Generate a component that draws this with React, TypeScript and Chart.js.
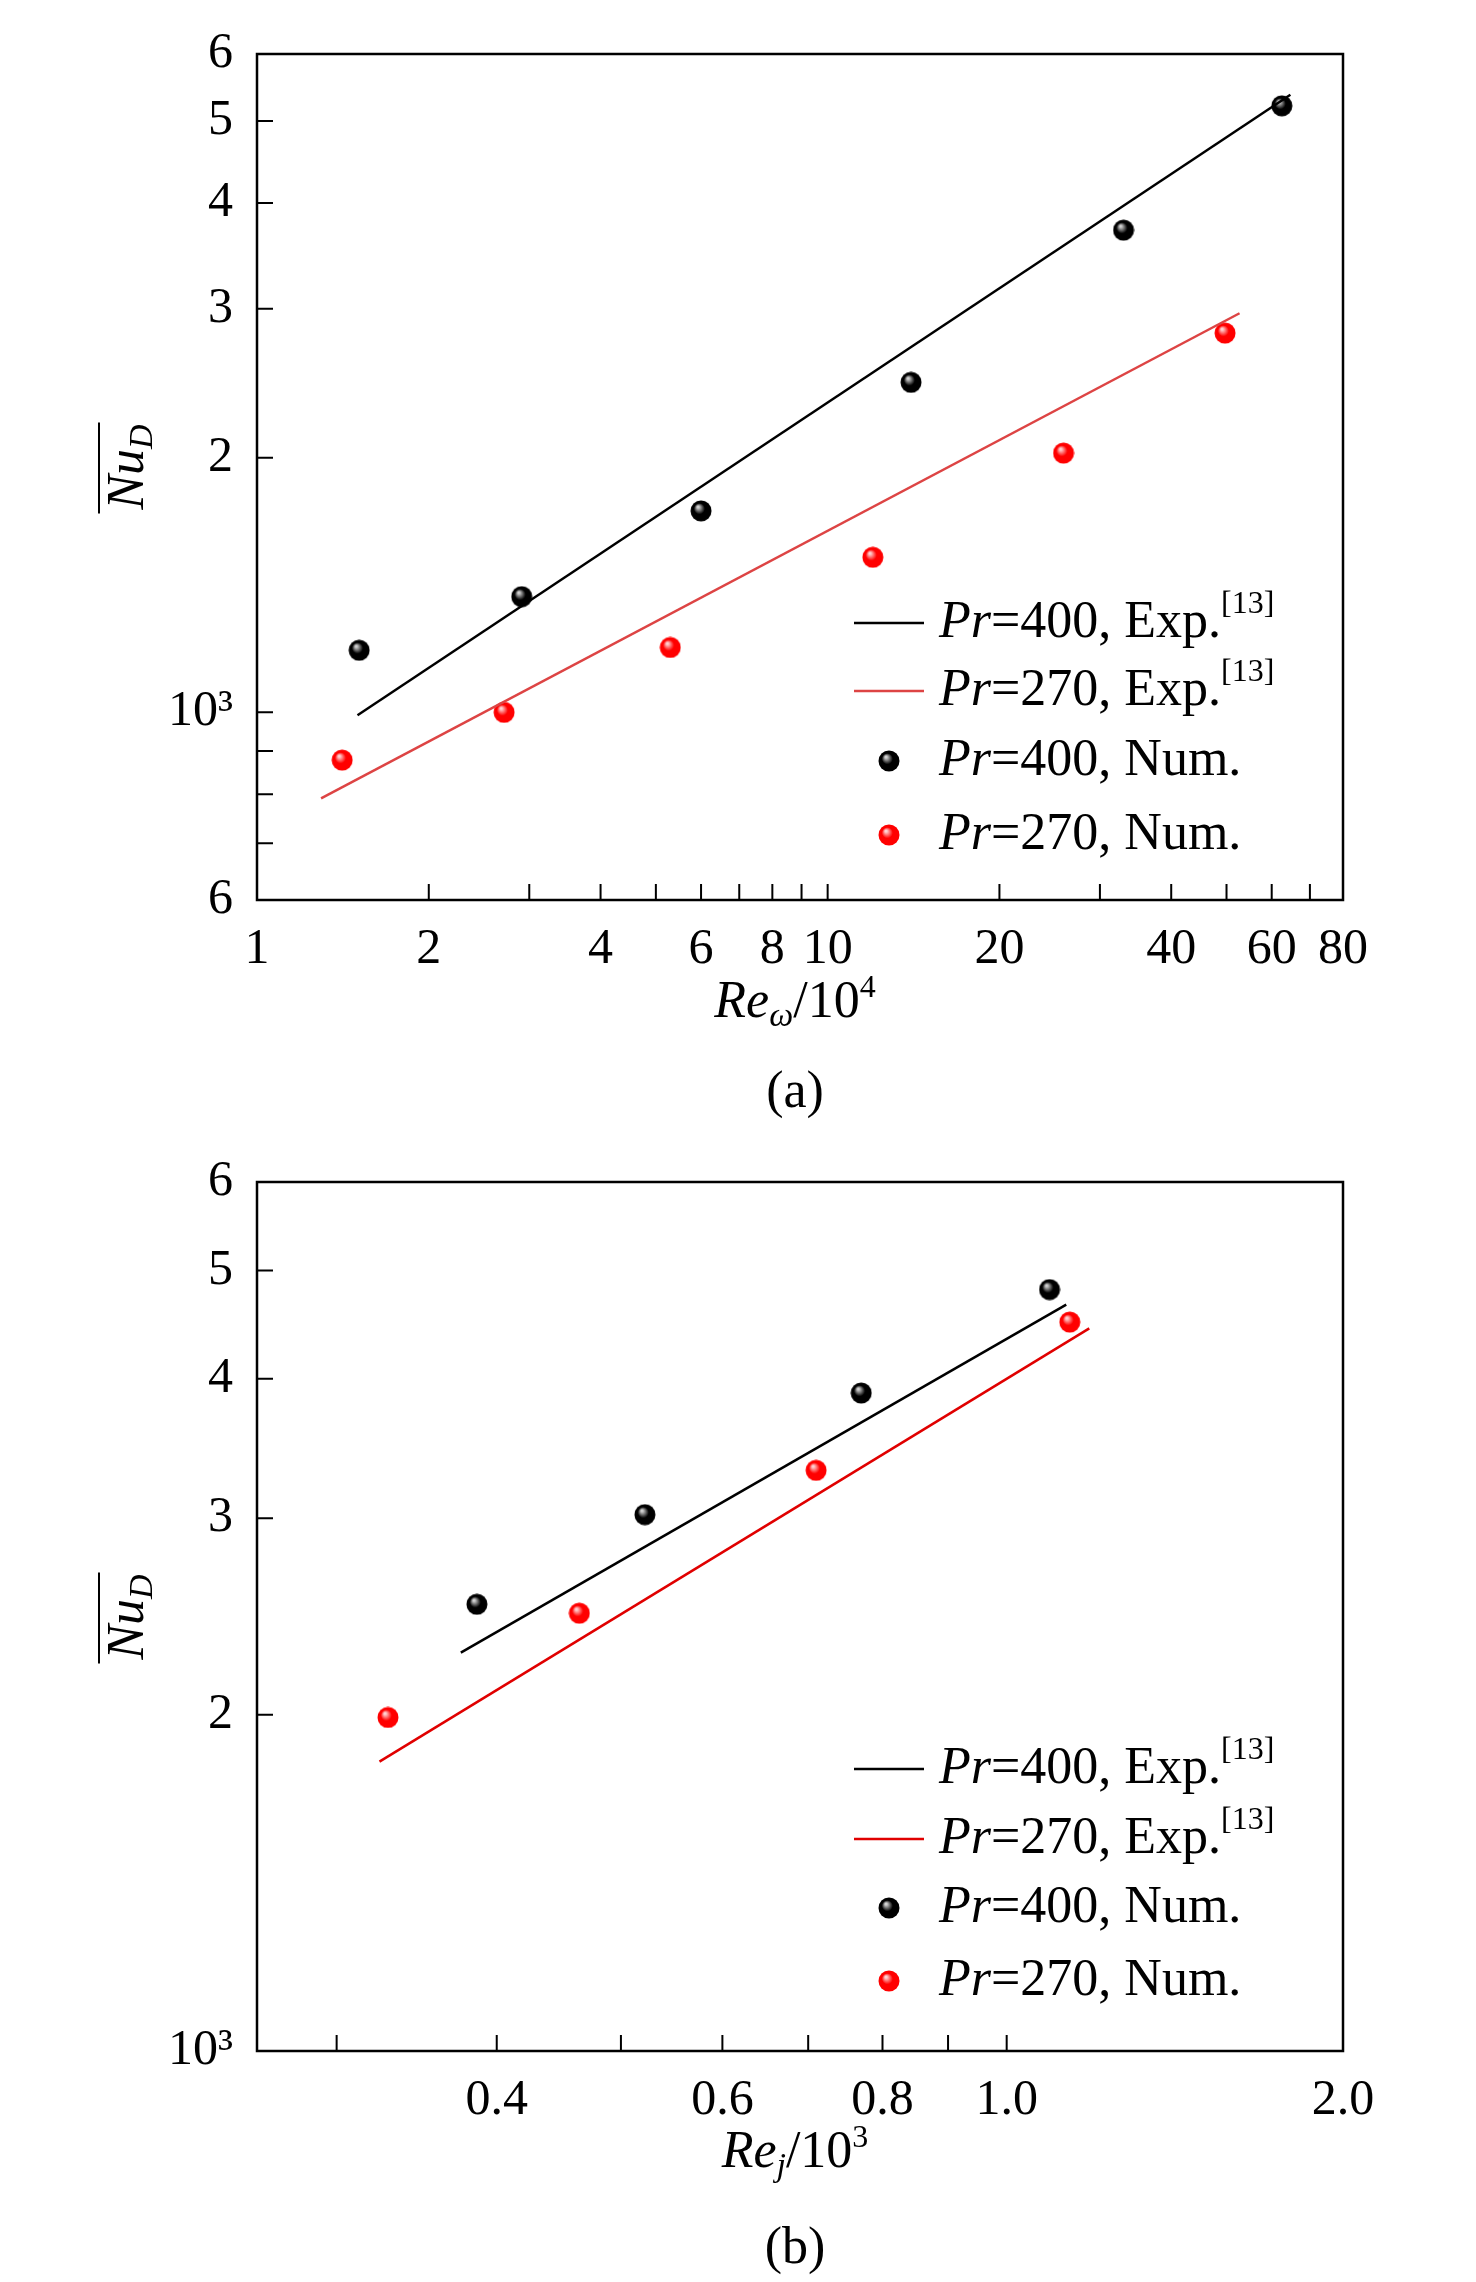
import React, { useEffect, useRef } from "react";
import Chart from "chart.js/auto";

// ---- chart (a) data ----
const aXTicks = [1, 2, 3, 4, 5, 6, 7, 8, 9, 10, 20, 30, 40, 50, 60, 70, 80];
const aXLabels = [1, 2, 4, 6, 8, 10, 20, 40, 60, 80];
const aYTicks = [600, 700, 800, 900, 1000, 2000, 3000, 4000, 5000, 6000];
const aYLabels: Record<number, string> = { 600: "6", 1000: "10³", 2000: "2", 3000: "3", 4000: "4", 5000: "5", 6000: "6" };
const aExp400 = [{ x: 1.5, y: 992 }, { x: 64.7, y: 5370 }];
const aExp270 = [{ x: 1.295, y: 791 }, { x: 52.7, y: 2963 }];
const aNum400 = [{ x: 1.51, y: 1184 }, { x: 2.91, y: 1370 }, { x: 6.0, y: 1730 }, { x: 14.0, y: 2455 }, { x: 33, y: 3715 }, { x: 62.5, y: 5210 }];
const aNum270 = [{ x: 1.41, y: 878 }, { x: 2.71, y: 1000 }, { x: 5.3, y: 1193 }, { x: 12, y: 1525 }, { x: 25.9, y: 2025 }, { x: 49.7, y: 2807 }];

// ---- chart (b) data ----
const bXMax = 1.83;
const bXTicks = [0.3, 0.4, 0.5, 0.6, 0.7, 0.8, 0.9, 1.0, bXMax];
const bXLabels: Record<string, string> = { "0.4": "0.4", "0.6": "0.6", "0.8": "0.8", "1": "1.0", [String(bXMax)]: "2.0" };
const bYTicks = [1000, 2000, 3000, 4000, 5000, 6000];
const bYLabels: Record<number, string> = { 1000: "10³", 2000: "2", 3000: "3", 4000: "4", 5000: "5", 6000: "6" };
const bExp400 = [{ x: 0.375, y: 2274 }, { x: 1.113, y: 4660 }];
const bExp270 = [{ x: 0.324, y: 1816 }, { x: 1.16, y: 4437 }];
const bNum400 = [{ x: 0.386, y: 2512 }, { x: 0.522, y: 3022 }, { x: 0.77, y: 3883 }, { x: 1.08, y: 4806 }];
const bNum270 = [{ x: 0.329, y: 1989 }, { x: 0.464, y: 2466 }, { x: 0.71, y: 3311 }, { x: 1.12, y: 4495 }];

const SERIF = "'Liberation Serif', 'Times New Roman', Times, serif";

function sphere(base: string, hi: string) {
  const c = document.createElement("canvas");
  c.width = 22;
  c.height = 22;
  const g = c.getContext("2d")!;
  const grad = g.createRadialGradient(8, 7, 1, 11, 11, 11);
  grad.addColorStop(0, hi);
  grad.addColorStop(0.45, base);
  grad.addColorStop(1, base);
  g.fillStyle = grad;
  g.beginPath();
  g.arc(11, 11, 10.5, 0, Math.PI * 2);
  g.fill();
  return c;
}

type Cfg = {
  xMin: number; xMax: number; yMin: number; yMax: number;
  xTicks: number[]; xLabel: (v: number) => string;
  yTicks: number[]; yLabel: (v: number) => string;
  exp400: any[]; exp270: any[]; num400: any[]; num270: any[];
  red: string; padTop: number; padBottom: number;
  legendY: number[]; xTitleY: number; capY: number;
  sub: string; sup: string; cap: string; yTitleY: number;
};

function drawRich(ctx: CanvasRenderingContext2D, x: number, y: number, parts: [string, string, number][]) {
  let cx = x;
  for (const [t, f, dy] of parts) {
    ctx.font = f;
    ctx.fillText(t, cx, y + dy);
    cx += ctx.measureText(t).width;
  }
  return cx;
}

function richWidth(ctx: CanvasRenderingContext2D, parts: [string, string, number][]) {
  let w = 0;
  for (const [t, f] of parts) { ctx.font = f; w += ctx.measureText(t).width; }
  return w;
}

const Panel: React.FC<{ cfg: Cfg; height: number }> = ({ cfg, height }) => {
  const ref = useRef<HTMLCanvasElement>(null);
  useEffect(() => {
    if (!ref.current) return;
    const blackBall = sphere("#000000", "#d0d0d0");
    const redBall = sphere("#ff0000", "#ffd0d0");
    const F = `52px ${SERIF}`;
    const FI = `italic 52px ${SERIF}`;
    const FS = `32px ${SERIF}`;
    const FSI = `italic 34px ${SERIF}`;

    const deco = {
      id: "deco",
      afterDraw(chart: any) {
        const ctx = chart.ctx as CanvasRenderingContext2D;
        const a = chart.chartArea;
        const xs = chart.scales.x;
        const ys = chart.scales.y;
        ctx.save();
        ctx.strokeStyle = "#000";
        ctx.lineWidth = 2.5;
        ctx.strokeRect(a.left, a.top, a.right - a.left, a.bottom - a.top);
        ctx.lineWidth = 2;
        ctx.beginPath();
        for (const v of cfg.xTicks) {
          const px = xs.getPixelForValue(v);
          ctx.moveTo(px, a.bottom);
          ctx.lineTo(px, a.bottom - 16);
        }
        for (const v of cfg.yTicks) {
          const py = ys.getPixelForValue(v);
          ctx.moveTo(a.left, py);
          ctx.lineTo(a.left + 16, py);
        }
        ctx.stroke();

        // legend
        ctx.fillStyle = "#000";
        ctx.textBaseline = "middle";
        const lx0 = 846, lx1 = 916, tx = 931;
        const rows: [string, string][] = [["400", "exp"], ["270", "exp"], ["400", "num"], ["270", "num"]];
        rows.forEach(([pr, kind], i) => {
          const y = cfg.legendY[i];
          if (kind === "exp") {
            ctx.strokeStyle = pr === "400" ? "#000" : cfg.red;
            ctx.lineWidth = 2.5;
            ctx.beginPath();
            ctx.moveTo(lx0, y);
            ctx.lineTo(lx1, y);
            ctx.stroke();
          } else {
            ctx.drawImage(pr === "400" ? blackBall : redBall, 881 - 11, y - 11);
          }
          const parts: [string, string, number][] = [["Pr", FI, 0], ["=" + pr + ", ", F, 0]];
          if (kind === "exp") { parts.push(["Exp.", F, 0], ["[13]", FS, -18]); } else parts.push(["Num.", F, 0]);
          drawRich(ctx, tx, y, parts);
        });

        // x title
        ctx.textBaseline = "alphabetic";
        const xt: [string, string, number][] = [["Re", FI, 0], [cfg.sub, FSI, 9], ["/10", F, 0], [cfg.sup, FS, -20]];
        const w = richWidth(ctx, xt);
        drawRich(ctx, 787 - w / 2, cfg.xTitleY + 17, xt);
        ctx.font = F;
        ctx.textAlign = "center";
        ctx.fillText(cfg.cap, 787, cfg.capY + 17);
        ctx.textAlign = "left";

        // y title (rotated)
        ctx.translate(135, cfg.yTitleY);
        ctx.rotate(-Math.PI / 2);
        const yt: [string, string, number][] = [["Nu", FI, 0], ["D", FSI, 9]];
        const yw = richWidth(ctx, yt);
        drawRich(ctx, -yw / 2, 0, yt);
        ctx.strokeStyle = "#000";
        ctx.lineWidth = 2;
        ctx.beginPath();
        ctx.moveTo(-yw / 2 - 4, -44);
        ctx.lineTo(yw / 2 + 2, -44);
        ctx.stroke();
        ctx.restore();
      },
    };

    const line = (data: any[], color: string) => ({
      type: "line" as const, data, borderColor: color, borderWidth: 2.5, pointRadius: 0, showLine: true, fill: false,
    });
    const pts = (data: any[], img: HTMLCanvasElement) => ({
      type: "scatter" as const, data, pointStyle: img, pointRadius: 11, showLine: false,
    });

    const chart = new Chart(ref.current, {
      type: "scatter",
      data: {
        datasets: [
          line(cfg.exp400, "#000000"),
          line(cfg.exp270, cfg.red),
          pts(cfg.num400, blackBall),
          pts(cfg.num270, redBall),
        ] as any,
      },
      plugins: [deco],
      options: {
        animation: false,
        responsive: true,
        maintainAspectRatio: false,
        layout: { padding: { left: 139, right: 125, top: cfg.padTop, bottom: cfg.padBottom } },
        plugins: { legend: { display: false }, tooltip: { enabled: false } },
        scales: {
          x: {
            type: "logarithmic",
            min: cfg.xMin,
            max: cfg.xMax,
            grid: { display: false },
            border: { display: false },
            afterBuildTicks: (s: any) => { s.ticks = cfg.xTicks.map((value) => ({ value })); },
            afterFit: (s: any) => { s.height = 70; },
            ticks: {
              autoSkip: false, maxRotation: 0, padding: 12, color: "#000",
              font: { family: SERIF, size: 50 },
              callback: (v: any) => cfg.xLabel(Number(v)),
            },
          },
          y: {
            type: "logarithmic",
            min: cfg.yMin,
            max: cfg.yMax,
            grid: { display: false },
            border: { display: false },
            afterBuildTicks: (s: any) => { s.ticks = cfg.yTicks.map((value) => ({ value })); },
            afterFit: (s: any) => { s.width = 110; },
            ticks: {
              autoSkip: false, padding: 16, color: "#000",
              font: { family: SERIF, size: 50 },
              callback: (v: any) => cfg.yLabel(Number(v)),
            },
          },
        },
      } as any,
    });
    return () => chart.destroy();
  }, [cfg]);
  return (
    <div style={{ position: "relative", width: "100%", height }}>
      <canvas ref={ref} />
    </div>
  );
};

const cfgA: Cfg = {
  xMin: 1, xMax: 80, yMin: 600, yMax: 6000,
  xTicks: aXTicks, xLabel: (v) => (aXLabels.includes(v) ? String(v) : ""),
  yTicks: aYTicks, yLabel: (v) => aYLabels[v] ?? "",
  exp400: aExp400, exp270: aExp270, num400: aNum400, num270: aNum270,
  red: "#dd4444", padTop: -6, padBottom: 158,
  legendY: [615, 683, 753, 827], xTitleY: 992, capY: 1082,
  sub: "ω", sup: "4", cap: "(a)", yTitleY: 459,
};

const cfgB: Cfg = {
  xMin: 0.26, xMax: bXMax, yMin: 1000, yMax: 6000,
  xTicks: bXTicks, xLabel: (v) => bXLabels[String(v)] ?? "",
  yTicks: bYTicks, yLabel: (v) => bYLabels[v] ?? "",
  exp400: bExp400, exp270: bExp270, num400: bNum400, num270: bNum270,
  red: "#e00000", padTop: 54, padBottom: 157,
  legendY: [641, 711, 780, 853], xTitleY: 1022, capY: 1118,
  sub: "j", sup: "3", cap: "(b)", yTitleY: 489,
};

const App: React.FC = () => (
  <div style={{ width: 1460, background: "#fff" }}>
    <Panel cfg={cfgA} height={1120} />
    <Panel cfg={cfgB} height={1150} />
  </div>
);

export default App;
